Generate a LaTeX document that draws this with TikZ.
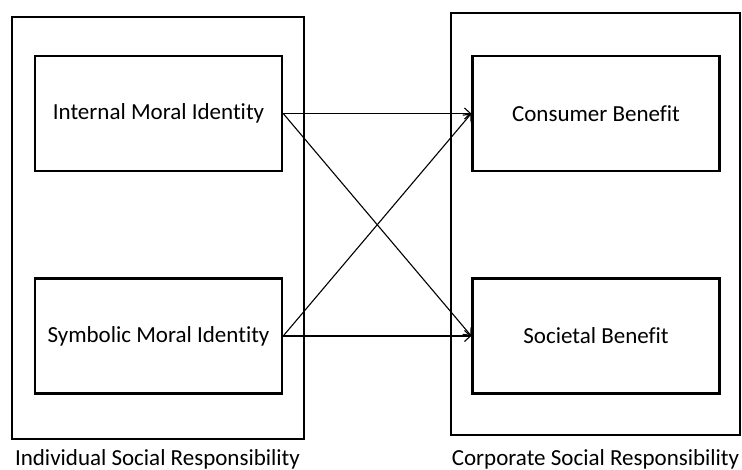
\documentclass[tikz,border=0pt]{standalone}
\usepackage{fontspec}
\setmainfont{Carlito}[Ligatures=NoCommon]
\usepackage{tikz}
\usetikzlibrary{arrows.meta, positioning}

\begin{document}
\begin{tikzpicture}[x=1pt, y=-1pt,
  groupbox/.style={draw, line width=2.2pt, minimum height=422pt, inner sep=0pt},
  itembox/.style={draw, line width=2.4pt, minimum width=247pt, minimum height=115pt, font=\fontsize{23}{27}\selectfont},
  grouplabel/.style={anchor=base, inner sep=0pt, font=\fontsize{23}{27}\selectfont},
  link/.style={-{Straight Barb[length=6pt, width=11pt]}, line width=1.1pt}]
  \useasboundingbox (0,0) rectangle (742,470);

  % Two groups of responsibility
  \node[groupbox, minimum width=292pt] (isr) at (158, 228) {};
  \node[groupbox, minimum width=289pt] (csr) at (595.5, 224) {};

  % Moral identity and benefit
  \node[itembox] (internal) at (158.5, 113.5) {Internal Moral Identity};
  \node[itembox] (symbolic) at (158.5, 336) {Symbolic Moral Identity};
  \node[itembox] (consumer) at (596, 113.5) {Consumer Benefit};
  \node[itembox] (societal) at (596, 336) {Societal Benefit};

  % Group names
  \node[grouplabel] (isrname) at (157.5, 465) {Individual Social Responsibility};
  \node[grouplabel] (csrname) at (595.5, 465) {Corporate Social Responsibility};

  % Every identity to every benefit
  \foreach \src in {internal, symbolic}
    \foreach \dst in {consumer, societal}
      \draw[link] (\src.east) -- (\dst.west);
\end{tikzpicture}
\end{document}
